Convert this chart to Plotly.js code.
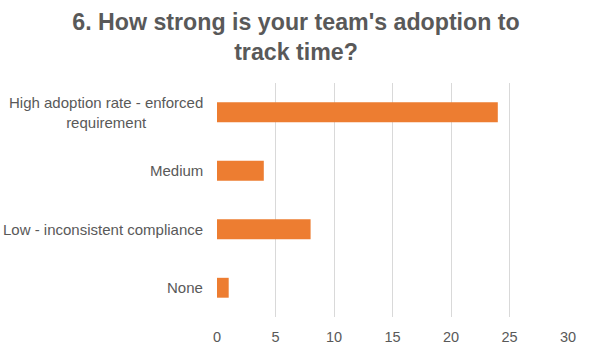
<!DOCTYPE html>
<html>
<head>
<meta charset="utf-8">
<script src="https://cdn.plot.ly/plotly-3.0.1.min.js"></script>
<style>html,body{margin:0;padding:0;background:#fff;}#chart{width:592px;height:354px;}</style>
</head>
<body>
<div id="chart"></div>
<script>
const categories = ["High adoption rate - enforced<br>requirement", "Medium", "Low - inconsistent compliance", "None"];
const values = [24, 4, 8, 1];
const tickValues = [0, 5, 10, 15, 20, 25, 30];
const titleText = "6. How strong is your team's adoption to<br>track time?";

const textColor = '#595959';
const font = 'Arial, "Liberation Sans", sans-serif';

const trace = {
  type: 'bar',
  orientation: 'h',
  y: categories,
  x: values,
  marker: {color: '#ED7D31'},
  hoverinfo: 'none'
};

const annotations = categories.map(c => ({
  xref: 'paper', yref: 'y', x: 0, y: c,
  xanchor: 'right', yanchor: 'middle', xshift: -12,
  text: c, align: 'center', showarrow: false,
  font: {family: font, size: 15, color: textColor}
}));

const layout = {
  width: 592, height: 354,
  margin: {l: 217, r: 24, t: 83, b: 37},
  paper_bgcolor: '#fff', plot_bgcolor: '#fff',
  showlegend: false,
  bargap: 0.66,
  title: {
    text: '<b>' + titleText + '</b>',
    x: 0.5, xanchor: 'center', xref: 'container',
    y: 1 - 29.5 / 354, yanchor: 'middle', yref: 'container',
    font: {family: font, size: 23.2, color: textColor}
  },
  xaxis: {
    range: [0, 30], tickvals: tickValues, ticktext: tickValues.map(String),
    showgrid: true, gridcolor: '#D9D9D9', gridwidth: 1,
    zeroline: false, showline: false, ticks: '',
    ticklabelstandoff: 9,
    tickfont: {family: font, size: 14.5, color: textColor},
    fixedrange: true
  },
  yaxis: {
    type: 'category', autorange: 'reversed',
    showticklabels: false, showgrid: false, zeroline: false, showline: false, ticks: '',
    fixedrange: true
  },
  annotations: annotations
};

Plotly.newPlot('chart', [trace], layout, {displayModeBar: false, staticPlot: true});
</script>
</body>
</html>
